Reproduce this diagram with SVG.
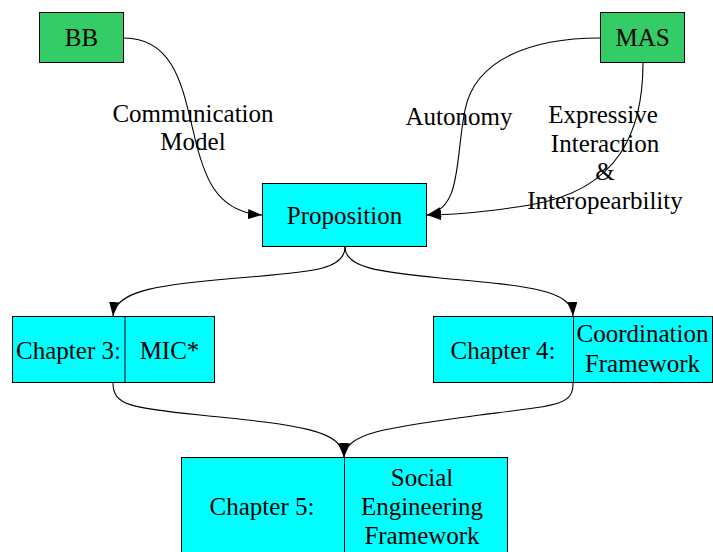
<svg xmlns="http://www.w3.org/2000/svg" width="713" height="552" viewBox="0 0 713 552">
<style>
text{font-family:'Liberation Serif','Times New Roman',Times,'DejaVu Serif',serif;font-size:25px;fill:#000;text-anchor:middle}
.g{fill:#33cc66;stroke:#000;stroke-width:1}
.c{fill:#00ffff;stroke:#000;stroke-width:1}
.e{fill:none;stroke:#000;stroke-width:1.1}
</style>
<defs>
<marker id="ah" markerUnits="userSpaceOnUse" markerWidth="15" markerHeight="11" refX="14" refY="5" orient="auto">
<path d="M0,0 L14,5 L0,10 z" fill="#000"/>
</marker>
</defs>
<rect width="713" height="552" fill="#fff"/>
<g id="connectors">
<path class="e" marker-end="url(#ah)" d="M124,38 C175,38 183,90 193,130 C203,175 215,212 262,215"/>
<path class="e" marker-end="url(#ah)" d="M600,38 C530,38 475,60 465,110 C455,160 462,208 427,215"/>
<path class="e" marker-end="url(#ah)" d="M643,63 C643,130 620,190 530,205 C480,213 450,215 427,215"/>
<path class="e" marker-end="url(#ah)" d="M345,247 C345,270 310,272 250,277 C160,284 115,290 113,316"/>
<path class="e" marker-end="url(#ah)" d="M345,247 C345,268 380,272 440,278 C530,286 572,290 573,316"/>
<path class="e" marker-end="url(#ah)" d="M113,383 C113,405 130,408 200,415 C300,425 342,430 344,457"/>
<path class="e" marker-end="url(#ah)" d="M573,383 C573,405 560,405 480,415 C390,427 346,432 344,457"/>
<text x="193" y="122">Communication</text>
<text x="193" y="150">Model</text>
<text x="459" y="125">Autonomy</text>
<text x="603" y="123">Expressive</text>
<text x="605" y="152">Interaction</text>
<text x="605" y="180">&amp;</text>
<text x="605" y="209">Interopearbility</text>
</g>
<g id="bb">
<rect class="g" x="39.5" y="12.5" width="84" height="50"/>
<text x="81.5" y="46">BB</text>
</g>
<g id="mas">
<rect class="g" x="600.5" y="12.5" width="84" height="50"/>
<text x="642.5" y="46">MAS</text>
</g>
<g id="proposition">
<rect class="c" x="262.5" y="183.5" width="164" height="63"/>
<text x="344.5" y="224">Proposition</text>
</g>
<g id="chapter3">
<rect class="c" x="12.5" y="316.5" width="202" height="66"/>
<line x1="125" y1="316.5" x2="125" y2="382.5" stroke="#000"/>
<text x="68.5" y="359">Chapter 3:</text>
<text x="169.5" y="359">MIC*</text>
</g>
<g id="chapter4">
<rect class="c" x="433.5" y="316.5" width="279" height="66"/>
<line x1="573.5" y1="316.5" x2="573.5" y2="382.5" stroke="#000"/>
<text x="503" y="359">Chapter 4:</text>
<text x="642.5" y="342">Coordination</text>
<text x="642.5" y="372">Framework</text>
</g>
<g id="chapter5">
<rect class="c" x="181.5" y="457.5" width="326" height="110"/>
<line x1="344.5" y1="457.5" x2="344.5" y2="567" stroke="#000"/>
<text x="262" y="515">Chapter 5:</text>
<text x="422" y="486">Social</text>
<text x="422" y="515">Engineering</text>
<text x="422" y="544">Framework</text>
</g>
</svg>
